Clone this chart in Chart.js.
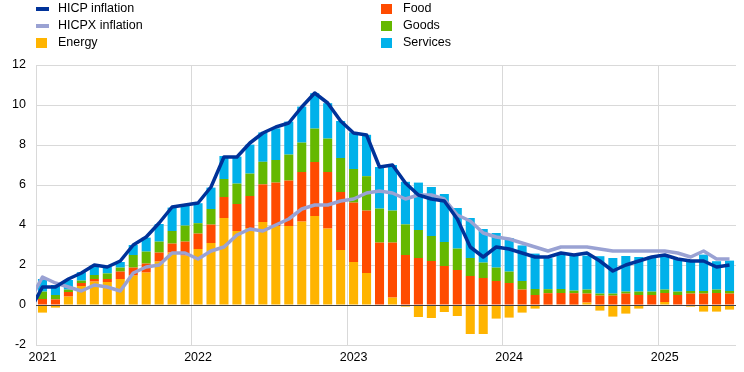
<!DOCTYPE html>
<html>
<head>
<meta charset="utf-8">
<script src="https://cdn.jsdelivr.net/npm/chart.js@4.4.1/dist/chart.umd.min.js"></script>
<style>
  html, body { margin: 0; padding: 0; background: #fff; }
  #wrap { position: relative; width: 744px; height: 372px; }
  #legend { position: absolute; left: 0; top: 0; width: 744px; height: 52px;
            font: 12.5px "Liberation Sans", Arial, sans-serif; color: #000; }
  .item { position: absolute; height: 17px; line-height: 17px; white-space: nowrap; }
  .sym { position: absolute; }
</style>
</head>
<body>
<div id="wrap">
  <canvas id="chart"></canvas>
  <div id="legend"></div>
</div>
<script>
// months Dec 2020 .. Jun 2025 (Dec 2020 only used so the lines enter from the left edge)
const startYear = 2020, startMonth = 12, monthCount = 55;
const months = [];
for (let k = 0; k < monthCount; k++) {
    const m = (startMonth - 1 + k) % 12 + 1;
    const y = startYear + Math.floor((startMonth - 1 + k) / 12);
    months.push(y + '-' + String(m).padStart(2, '0'));
}

// contributions, percentage points (first value = Dec 2020, not shown)
const energy = [null,
    -0.38, -0.13, 0.42, 0.95, 1.17, 1.15, 1.30, 1.47, 1.62, 2.17, 2.62, 2.47,
    2.80, 3.10, 4.35, 3.70, 3.85, 4.15, 3.95, 3.95, 4.17, 4.45, 3.82, 2.75,
    2.15, 1.60, -0.02, 0.37, -0.08, -0.60, -0.65, -0.35, -0.55, -1.45, -1.45, -0.68,
    -0.63, -0.38, -0.18, 0.02, 0.03, 0.02, 0.12, -0.28, -0.58, -0.43, -0.18, 0.00,
    0.15, 0.00, -0.08, -0.33, -0.33, -0.23];
const food = [null,
    0.30, 0.28, 0.23, 0.15, 0.13, 0.15, 0.37, 0.40, 0.45, 0.45, 0.45, 0.70,
    0.77, 0.92, 1.05, 1.35, 1.60, 1.88, 2.17, 2.27, 2.48, 2.70, 2.83, 2.90,
    2.97, 3.12, 3.12, 2.75, 2.50, 2.35, 2.20, 1.95, 1.75, 1.45, 1.35, 1.20,
    1.10, 0.77, 0.50, 0.57, 0.57, 0.57, 0.45, 0.47, 0.47, 0.57, 0.50, 0.50,
    0.45, 0.50, 0.57, 0.57, 0.60, 0.57];
const goods = [null,
    0.37, 0.22, 0.12, 0.12, 0.20, 0.28, 0.20, 0.63, 0.60, 0.55, 0.63, 0.80,
    0.52, 0.78, 0.90, 1.02, 1.12, 1.13, 1.13, 1.30, 1.47, 1.67, 1.67, 1.70,
    1.68, 1.72, 1.70, 1.60, 1.53, 1.40, 1.25, 1.20, 1.07, 0.90, 0.77, 0.67,
    0.57, 0.43, 0.30, 0.20, 0.20, 0.13, 0.20, 0.10, 0.10, 0.10, 0.17, 0.17,
    0.17, 0.17, 0.13, 0.13, 0.17, 0.13];
const services = [null,
    0.63, 0.50, 0.48, 0.42, 0.47, 0.33, 0.28, 0.50, 0.70, 0.88, 1.17, 0.98,
    1.00, 1.07, 1.15, 1.35, 1.45, 1.47, 1.58, 1.65, 1.80, 1.77, 1.77, 1.85,
    1.83, 2.07, 2.08, 2.28, 2.13, 2.37, 2.45, 2.40, 2.03, 2.00, 1.68, 1.73,
    1.68, 1.78, 1.77, 1.55, 1.75, 1.73, 1.70, 1.87, 1.78, 1.78, 1.73, 1.75,
    1.73, 1.62, 1.52, 1.82, 1.42, 1.52];

// annual rates, %
const hicp = [-0.3,
    0.9, 0.9, 1.3, 1.6, 2.0, 1.9, 2.2, 3.0, 3.4, 4.1, 4.9, 5.0,
    5.1, 5.9, 7.4, 7.4, 8.1, 8.6, 8.9, 9.1, 9.9, 10.6, 10.1, 9.2,
    8.6, 8.5, 6.9, 7.0, 6.1, 5.5, 5.3, 5.2, 4.3, 2.9, 2.4, 2.9,
    2.8, 2.6, 2.4, 2.4, 2.6, 2.5, 2.6, 2.2, 1.7, 2.0, 2.2, 2.4,
    2.5, 2.3, 2.2, 2.2, 1.9, 2.0];
const hicpx = [0.2,
    1.4, 1.1, 0.9, 0.7, 1.0, 0.9, 0.7, 1.6, 1.9, 2.0, 2.6, 2.6,
    2.3, 2.7, 2.9, 3.5, 3.8, 3.7, 4.0, 4.3, 4.8, 5.0, 5.0, 5.2,
    5.3, 5.6, 5.7, 5.6, 5.3, 5.5, 5.5, 5.3, 4.5, 4.2, 3.6, 3.4,
    3.3, 3.1, 2.9, 2.7, 2.9, 2.9, 2.9, 2.8, 2.7, 2.7, 2.7, 2.7,
    2.7, 2.6, 2.4, 2.7, 2.3, 2.3];

const yTicks = [-2, 0, 2, 4, 6, 8, 10, 12];

const colors = {
    hicp: '#003299', hicpx: '#9aa2d3',
    energy: '#ffb400', food: '#ff4b00', goods: '#65b800', services: '#00b1ea'
};
const gridColor = '#d9d9d9';
const font = { family: '"Liberation Sans", Arial, sans-serif', size: 12.5 };

// html legend, two columns
const legendItems = [
    { text: 'HICP inflation', kind: 'line', color: colors.hicp, col: 0, row: 0 },
    { text: 'HICPX inflation', kind: 'line', color: colors.hicpx, col: 0, row: 1 },
    { text: 'Energy', kind: 'box', color: colors.energy, col: 0, row: 2 },
    { text: 'Food', kind: 'box', color: colors.food, col: 1, row: 0 },
    { text: 'Goods', kind: 'box', color: colors.goods, col: 1, row: 1 },
    { text: 'Services', kind: 'box', color: colors.services, col: 1, row: 2 }
];
const legend = document.getElementById('legend');
legendItems.forEach(it => {
    const div = document.createElement('div');
    div.className = 'item';
    const x0 = it.col === 0 ? 36 : 381;
    div.style.left = x0 + 'px';
    div.style.top = (it.row * 17) + 'px';
    div.style.paddingLeft = '22px';
    const s = document.createElement('span');
    s.className = 'sym';
    s.style.background = it.color;
    if (it.kind === 'line') {
        s.style.left = '0px'; s.style.top = '7px'; s.style.width = '13px'; s.style.height = '3.5px';
    } else {
        s.style.left = '0px'; s.style.top = '4px'; s.style.width = '11px'; s.style.height = '10px';
    }
    div.appendChild(s);
    div.appendChild(document.createTextNode(it.text));
    legend.appendChild(div);
});

const zeroLine = {
    id: 'zeroLine',
    afterDatasetsDraw(chart) {
        const { ctx, chartArea, scales } = chart;
        const py = Math.round(scales.y.getPixelForValue(0)) + 0.5;
        ctx.save();
        ctx.strokeStyle = '#404040';
        ctx.lineWidth = 1.2;
        ctx.beginPath();
        ctx.moveTo(chartArea.left, py);
        ctx.lineTo(chartArea.right, py);
        ctx.stroke();
        ctx.restore();
    }
};

function barSet(label, data, color) {
    return {
        label: label, data: data, backgroundColor: color, borderWidth: 0,
        stack: 'contrib', order: 2, barPercentage: 0.7, categoryPercentage: 1.0
    };
}
function lineSet(label, data, color, order) {
    return {
        type: 'line', label: label, data: data, borderColor: color, backgroundColor: color,
        borderWidth: 3.5, pointRadius: 0, tension: 0, fill: false,
        stack: label, order: order, borderJoinStyle: 'round'
    };
}

const ctx = document.getElementById('chart').getContext('2d');
const chart = new Chart(ctx, {
    type: 'bar',
    data: {
        labels: months,
        datasets: [
            lineSet('HICP inflation', hicp, colors.hicp, 0),
            lineSet('HICPX inflation', hicpx, colors.hicpx, 1),
            barSet('Energy', energy, colors.energy),
            barSet('Food', food, colors.food),
            barSet('Goods', goods, colors.goods),
            barSet('Services', services, colors.services)
        ]
    },
    options: {
        responsive: true,
        maintainAspectRatio: false,
        animation: false,
        layout: { padding: { top: 65, right: 8, left: 0, bottom: 0 } },
        plugins: { legend: { display: false }, tooltip: { enabled: false } },
        scales: {
            x: {
                stacked: true,
                min: '2021-01',
                border: { display: false },
                grid: {
                    offset: true,
                    drawTicks: false,
                    color: c => (c.tick && months[c.tick.value].endsWith('-01')) ? gridColor : 'rgba(0,0,0,0)'
                },
                ticks: {
                    autoSkip: false, maxRotation: 0, padding: 5, color: '#000', font: font,
                    callback: function (v) {
                        const l = months[v];
                        return l.endsWith('-01') ? l.slice(0, 4) : '';
                    }
                },
                afterFit: s => { s.height = 27; }
            },
            y: {
                stacked: true,
                min: yTicks[0], max: yTicks[yTicks.length - 1],
                border: { display: false },
                grid: { color: gridColor, drawTicks: false },
                ticks: { stepSize: 2, padding: 10, color: '#000', font: font },
                afterFit: s => { s.width = 36; }
            }
        }
    },
    plugins: [zeroLine]
});
</script>
</body>
</html>
